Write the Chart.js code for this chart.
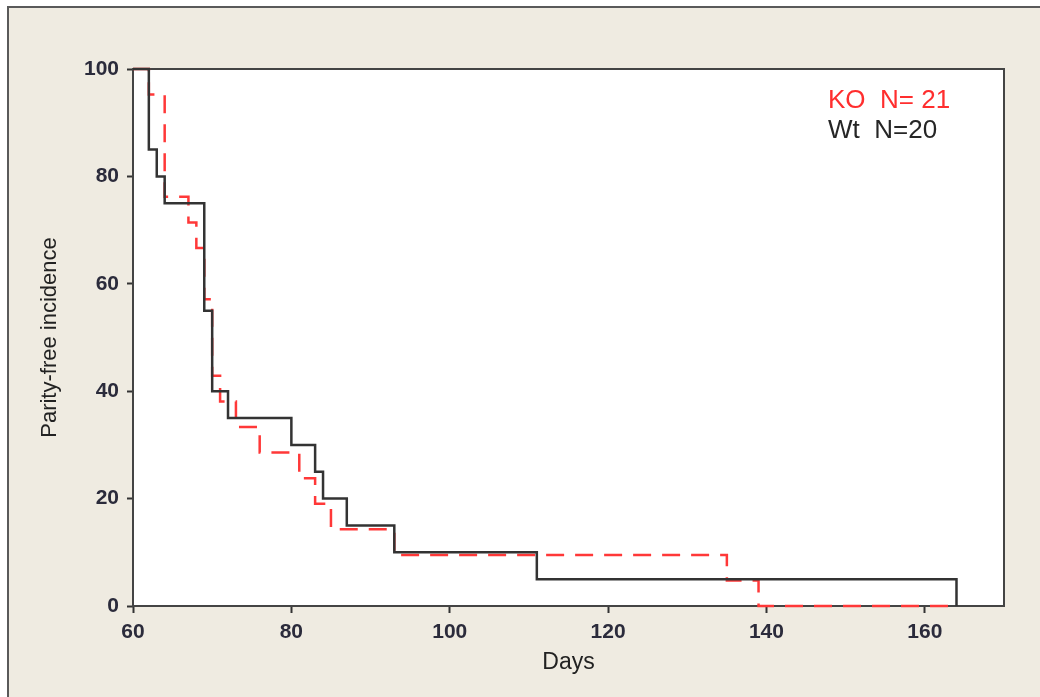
<!DOCTYPE html>
<html>
<head>
<meta charset="utf-8">
<script src="https://cdn.jsdelivr.net/npm/chart.js@4.4.1/dist/chart.umd.min.js"></script>
<style>
  html, body { margin: 0; padding: 0; background: #ffffff; overflow: hidden; }
  #frame {
    position: absolute; left: 7px; top: 6px; width: 1100px; height: 760px;
    background: #efebe1; border-left: 2px solid #5a5a5a; border-top: 2px solid #5a5a5a;
  }
  #grafica { position: absolute; left: 0; top: 0; }
</style>
</head>
<body>
<div id="frame"></div>
<canvas id="grafica" width="1040" height="697"></canvas>
<script>
// Kaplan-Meier steps
const koDays   = [60, 62, 64, 67, 68, 69, 70, 71, 73, 76, 81, 83, 85, 93, 135, 139, 163];
const koValues = [100, 95.24, 76.19, 71.43, 66.67, 57.14, 42.86, 38.10, 33.33, 28.57, 23.81, 19.05, 14.29, 9.52, 4.76, 0, 0];
const wtDays   = [60, 62, 63, 64, 69, 70, 72, 80, 83, 84, 87, 93, 111, 164];
const wtValues = [100, 85, 80, 75, 55, 40, 35, 30, 25, 20, 15, 10, 5, 0];

const xTicks = [60, 80, 100, 120, 140, 160];
const yTicks = [0, 20, 40, 60, 80, 100];
const legendLabels = ["KO  N= 21", "Wt  N=20"];
const legendColors = ["#ff2e2e", "#262626"];

const plotBox = {
  id: "plotBox",
  beforeDatasetsDraw(chart) {
    const { ctx, chartArea: a } = chart;
    ctx.save();
    ctx.fillStyle = "#ffffff";
    ctx.fillRect(a.left, a.top, a.right - a.left, a.bottom - a.top);
    ctx.strokeStyle = "#444444";
    ctx.lineWidth = 2;
    ctx.strokeRect(a.left, a.top, a.right - a.left, a.bottom - a.top);
    ctx.restore();
  },
  afterDraw(chart) {
    const { ctx } = chart;
    ctx.save();
    ctx.font = "26px 'Liberation Sans'";
    ctx.textBaseline = "alphabetic";
    legendLabels.forEach((t, i) => {
      ctx.fillStyle = legendColors[i];
      ctx.fillText(t, 828, 108 + i * 30);
    });
    ctx.restore();
  }
};

const ctx = document.getElementById("grafica").getContext("2d");
new Chart(ctx, {
  type: "line",
  data: {
    datasets: [
      {
        label: "Wt",
        data: wtDays.map((d, i) => ({ x: d, y: wtValues[i] })),
        borderColor: "#333333",
        borderWidth: 2.5,
        stepped: "before",
        pointRadius: 0,
        fill: false
      },
      {
        label: "KO",
        data: koDays.map((d, i) => ({ x: d, y: koValues[i] })),
        borderColor: "#ff3838",
        borderWidth: 2.5,
        borderDash: [18, 11],
        stepped: "before",
        pointRadius: 0,
        fill: false
      }
    ]
  },
  options: {
    responsive: false,
    animation: false,
    clip: false,
    layout: { padding: { top: 69, right: 36, left: 0, bottom: 0 } },
    plugins: {
      legend: { display: false },
      tooltip: { enabled: false }
    },
    scales: {
      x: {
        type: "linear",
        min: 60,
        max: 170,
        afterFit: s => { s.height = 91; },
        afterBuildTicks: s => { s.ticks = xTicks.map(v => ({ value: v })); },
        border: { display: false },
        grid: { drawOnChartArea: false, tickLength: 7, tickWidth: 2, tickColor: "#333333" },
        ticks: { padding: 7, color: "#2b2b3b", font: { family: "Liberation Sans", size: 21, weight: "bold" } },
        title: {
          display: true, text: "Days", color: "#222222",
          font: { family: "Liberation Sans", size: 23 },
          padding: { top: 0, bottom: 21 }
        }
      },
      y: {
        min: 0,
        max: 100,
        afterFit: s => { s.width = 133; },
        afterBuildTicks: s => { s.ticks = yTicks.map(v => ({ value: v })); },
        border: { display: false },
        grid: { drawOnChartArea: false, tickLength: 6, tickWidth: 2, tickColor: "#333333" },
        ticks: { padding: 8, color: "#2b2b3b", font: { family: "Liberation Sans", size: 21, weight: "bold" } },
        title: {
          display: true, text: "Parity-free incidence", color: "#222222",
          font: { family: "Liberation Sans", size: 22 },
          padding: { top: 37, bottom: 0 }
        }
      }
    }
  },
  plugins: [plotBox]
});
</script>
</body>
</html>
